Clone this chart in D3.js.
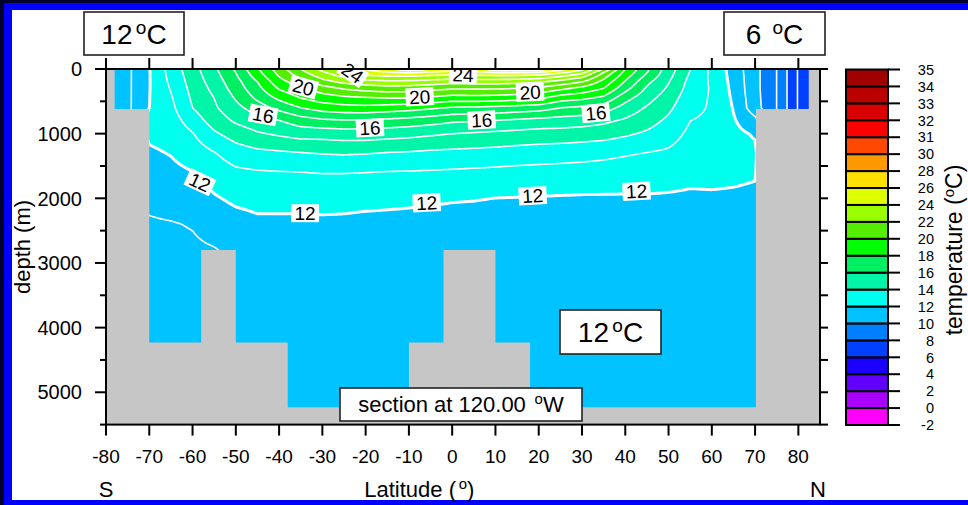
<!DOCTYPE html>
<html>
<head>
<meta charset="utf-8">
<script src="https://cdn.jsdelivr.net/npm/d3@7"></script>
<style>
  html, body { margin: 0; padding: 0; background: #00002c; }
  svg { display: block; font-family: "Liberation Sans", Arial, Helvetica, sans-serif; }
</style>
</head>
<body>
<svg id="chart"></svg>
<script>
// section grid (latitude, depth in m)
const lats = [-80, -75, -70, -65, -60, -55, -50, -45, -40, -35, -30, -25, -20, -15, -10, -5, 0,
  5, 10, 15, 20, 25, 30, 35, 40, 45, 50, 55, 60, 65, 70, 75, 80, 85];
const depths = [0, 50, 100, 200, 300, 450, 600, 800, 1000, 1300, 1600, 2000, 2400, 2800, 3500, 5500];

// temperature (degC): one profile per latitude, surface to bottom
const tempByLat = [
  [10.8, 10.8, 10.8, 10.8, 10.8, 10.8, 10.8, 10.8, 10.8, 10.8, 10.8, 10.8, 10.8, 10.8, 10.8, 10.8],
  [10.8, 10.8, 10.8, 10.8, 10.8, 10.8, 10.8, 10.8, 10.8, 10.8, 10.8, 10.8, 10.8, 10.8, 10.8, 10.8],
  [11.95, 11.95, 11.95, 11.95, 11.96, 11.98, 12.0, 12.3, 12.2, 11.85, 11.55, 11.2, 10.9, 10.75, 10.55, 10.4],
  [13.4, 13.35, 13.3, 13.2, 13.07, 12.9, 12.75, 12.55, 12.35, 12.05, 11.75, 11.35, 10.95, 10.8, 10.6, 10.4],
  [14.6, 14.55, 14.5, 14.4, 14.3, 14.15, 14.0, 13.45, 12.95, 12.45, 11.97, 11.5, 11.05, 10.85, 10.6, 10.4],
  [15.8, 15.72, 15.63, 15.45, 15.27, 15.0, 14.85, 14.45, 13.85, 12.95, 12.45, 11.9, 11.35, 10.95, 10.85, 10.8],
  [17.2, 17.0, 16.9, 16.65, 16.45, 16.1, 15.7, 15.15, 14.45, 13.5, 12.8, 12.2, 11.6, 11.2, 11.1, 11.05],
  [18.9, 18.7, 18.5, 18.0, 17.7, 17.2, 16.5, 15.6, 14.9, 13.75, 12.9, 12.3, 11.8, 11.6, 11.5, 11.4],
  [20.5, 20.3, 20.1, 19.6, 19.1, 18.2, 17.3, 15.95, 15.15, 13.85, 12.95, 12.3, 11.8, 11.65, 11.5, 11.4],
  [22.0, 21.7, 21.35, 20.6, 19.9, 19.0, 18.0, 16.5, 15.4, 13.95, 12.98, 12.3, 11.8, 11.65, 11.5, 11.4],
  [23.3, 22.9, 22.5, 21.6, 20.55, 19.5, 18.45, 16.8, 15.4, 14.05, 13.03, 12.35, 11.8, 11.65, 11.5, 11.4],
  [24.3, 23.75, 23.3, 22.25, 21.1, 19.75, 18.65, 16.9, 15.5, 14.1, 13.03, 12.3, 11.8, 11.65, 11.5, 11.4],
  [25.1, 24.5, 24.0, 22.55, 21.4, 19.9, 18.7, 16.9, 15.5, 14.05, 13.0, 12.25, 11.75, 11.65, 11.5, 11.4],
  [25.9, 24.95, 24.15, 22.75, 21.55, 20.0, 18.55, 16.75, 15.4, 13.95, 12.95, 12.2, 11.75, 11.6, 11.5, 11.4],
  [26.8, 25.2, 24.2, 22.7, 21.5, 20.0, 18.4, 16.6, 15.3, 13.9, 12.93, 12.15, 11.75, 11.6, 11.5, 11.4],
  [26.1, 24.9, 24.0, 22.55, 21.3, 19.8, 18.15, 16.4, 15.15, 13.8, 12.9, 12.1, 11.75, 11.6, 11.5, 11.4],
  [25.6, 24.65, 23.9, 22.3, 21.1, 19.55, 17.9, 16.15, 15.0, 13.75, 12.85, 12.05, 11.75, 11.6, 11.5, 11.4],
  [25.9, 24.8, 23.95, 22.4, 21.1, 19.6, 17.85, 16.05, 14.9, 13.7, 12.8, 12.03, 11.75, 11.6, 11.5, 11.4],
  [26.6, 25.1, 24.0, 22.4, 21.1, 19.55, 17.75, 15.95, 14.8, 13.65, 12.75, 11.99, 11.75, 11.6, 11.5, 11.4],
  [26.9, 25.15, 24.0, 22.3, 21.0, 19.4, 17.6, 15.8, 14.7, 13.55, 12.7, 11.97, 11.75, 11.6, 11.5, 11.4],
  [26.7, 25.0, 23.85, 22.1, 20.8, 19.2, 17.45, 15.65, 14.6, 13.5, 12.65, 11.95, 11.75, 11.6, 11.5, 11.4],
  [25.4, 24.35, 23.25, 21.6, 20.25, 18.45, 17.0, 15.55, 14.6, 13.4, 12.65, 11.92, 11.75, 11.6, 11.5, 11.4],
  [24.3, 23.4, 22.5, 21.0, 19.7, 18.2, 16.8, 15.45, 14.5, 13.35, 12.6, 11.9, 11.75, 11.6, 11.5, 11.4],
  [22.0, 21.0, 20.5, 19.65, 19.0, 17.75, 16.5, 15.2, 14.4, 13.25, 12.55, 11.9, 11.75, 11.6, 11.5, 11.4],
  [19.0, 18.7, 18.45, 17.9, 17.35, 16.35, 15.6, 14.85, 14.15, 13.1, 12.5, 11.9, 11.75, 11.6, 11.5, 11.4],
  [17.2, 17.05, 16.8, 16.25, 15.85, 15.35, 14.9, 14.4, 13.85, 12.97, 12.5, 11.9, 11.75, 11.6, 11.5, 11.4],
  [15.5, 15.4, 15.3, 15.05, 14.85, 14.5, 14.2, 13.8, 13.4, 12.85, 12.4, 11.88, 11.75, 11.6, 11.5, 11.4],
  [14.0, 13.95, 13.85, 13.7, 13.6, 13.4, 13.25, 13.0, 12.8, 12.55, 12.25, 11.85, 11.75, 11.6, 11.5, 11.4],
  [12.8, 12.8, 12.8, 12.85, 12.9, 12.9, 12.9, 12.85, 12.75, 12.55, 12.3, 11.85, 11.75, 11.6, 11.5, 11.4],
  [11.6, 11.6, 11.65, 11.7, 11.75, 11.85, 11.95, 12.1, 12.25, 12.35, 12.2, 11.85, 11.75, 11.6, 11.5, 11.4],
  [10.3, 10.3, 10.3, 10.3, 10.3, 10.35, 10.4, 11.3, 11.9, 12.2, 12.1, 11.8, 11.7, 11.6, 11.5, 11.4],
  [9.0, 9.0, 9.0, 9.0, 9.0, 9.0, 9.0, 9.0, 9.0, 9.0, 9.0, 9.0, 9.0, 9.0, 9.0, 9.0],
  [6.9, 6.9, 6.9, 6.9, 6.9, 6.9, 6.9, 6.9, 6.9, 6.9, 6.9, 6.9, 6.9, 6.9, 6.9, 6.9],
  [6.5, 6.5, 6.5, 6.5, 6.5, 6.5, 6.5, 6.5, 6.5, 6.5, 6.5, 6.5, 6.5, 6.5, 6.5, 6.5]
];

// sea floor / land blocks: latitude span and depth of the land top
const landFrom = [-80, -78, -70, -58, -50, -38, -10, -2, 10, 18, 70.2, 82.4];
const landTo   = [-78, -70, -58, -50, -38, -10, -2, 10, 18, 70.2, 82.4, 85];
const landTop  = [0, 620, 4230, 2800, 4230, 5230, 4230, 2800, 4230, 5230, 620, 0];

// colour bar levels and fills (one fill per interval)
const colorLevels = [-2, 0, 2, 4, 6, 8, 10, 12, 14, 16, 18, 20, 22, 24, 26, 28, 30, 31, 32, 33, 34, 35];
const colorFills = ["#ff00ff", "#aa00ff", "#6200ff", "#1a00ff", "#0040ff", "#0080ff", "#00c3ff",
  "#00ffee", "#00f5a8", "#00ee62", "#00ff00", "#55ee00", "#99ff00", "#ddff00", "#ffe000",
  "#ff9900", "#ff4800", "#ff0000", "#d80000", "#bb0000", "#a00000"];

// white isolines every degree
const lineLevels = [7, 8, 9, 10, 11, 12, 13, 14, 15, 16, 17, 18, 19, 20, 21, 22, 23, 24, 25, 26];

const latTicks = [-80, -70, -60, -50, -40, -30, -20, -10, 0, 10, 20, 30, 40, 50, 60, 70, 80];
const depthTicks = [0, 1000, 2000, 3000, 4000, 5000];
const depthMinor = [500, 1500, 2500, 3500, 4500, 5500];

// contour labels
const labelText  = ["20", "24", "24", "20", "20", "16", "16", "16", "16", "12", "12", "12", "12", "12"];
const labelLat   = [-34.4, -23, 2.5, -7.5, 18, -43.7, -19, 6.8, 33.2, -58.3, -34, -5.9, 18.6, 42.6];
const labelDepth = [280, 60, 90, 430, 360, 710, 910, 790, 680, 1750, 2230, 2070, 1960, 1890];
const labelAngle = [15, 35, 2, -3, -3, 10, -3, -3, -5, 25, 0, -3, -3, -3];

const W = 968, H = 505;
const svg = d3.select("#chart").attr("width", W).attr("height", H);

// frame of the slide
svg.append("rect").attr("x", 4).attr("y", 3).attr("width", W - 4).attr("height", H - 3).attr("fill", "#0000ff");
svg.append("rect").attr("x", 12).attr("y", 10).attr("width", W - 12).attr("height", 490).attr("fill", "#ffffff");

const x = d3.scaleLinear().domain([-80, 85]).range([106, 820]);
const y = d3.scaleLinear().domain([0, 5500]).range([69, 424.6]);

function tempAt(lat, depth) {
  lat = Math.max(lats[0], Math.min(lats[lats.length - 1], lat));
  depth = Math.max(depths[0], Math.min(depths[depths.length - 1], depth));
  const i = Math.min(d3.bisectRight(lats, lat) - 1, lats.length - 2);
  const j = Math.min(d3.bisectRight(depths, depth) - 1, depths.length - 2);
  const tx = (lat - lats[i]) / (lats[i + 1] - lats[i]);
  const ty = (depth - depths[j]) / (depths[j + 1] - depths[j]);
  const a = tempByLat[i][j], b = tempByLat[i + 1][j];
  const c = tempByLat[i][j + 1], d = tempByLat[i + 1][j + 1];
  return a * (1 - tx) * (1 - ty) + b * tx * (1 - ty) + c * (1 - tx) * ty + d * tx * ty;
}

// sample the field a bit beyond the plot so the outer rings fall outside the clip
const step = 2;
const gx0 = x(-80) - 6, gy0 = y(0) - 6;
const nx = Math.ceil((x(85) + 6 - gx0) / step);
const ny = Math.ceil((y(5500) + 6 - gy0) / step);
const values = new Float64Array(nx * ny);
for (let j = 0; j < ny; j++) {
  for (let i = 0; i < nx; i++) {
    values[j * nx + i] = tempAt(x.invert(gx0 + (i + 0.5) * step), y.invert(gy0 + (j + 0.5) * step));
  }
}
const path = d3.geoPath(d3.geoIdentity().scale(step).translate([gx0, gy0]));

svg.append("clipPath").attr("id", "plotClip")
  .append("rect").attr("x", x(-80)).attr("y", y(0))
  .attr("width", x(85) - x(-80)).attr("height", y(5500) - y(0));

const plot = svg.append("g").attr("clip-path", "url(#plotClip)");

const bands = d3.contours().size([nx, ny]).thresholds(colorLevels.slice(0, -1))(values);
plot.append("g").selectAll("path").data(bands).join("path")
  .attr("d", path)
  .attr("fill", (d, i) => colorFills[i]);

const isolines = d3.contours().size([nx, ny]).thresholds(lineLevels)(values);
plot.append("g").selectAll("path").data(isolines).join("path")
  .attr("d", path)
  .attr("fill", "none")
  .attr("stroke", "#ffffff")
  .attr("stroke-width", d => d.value === 12 ? 3 : 1.6)
  .attr("stroke-linejoin", "round");

// land as one outline so the blocks have no seams
const landPts = [];
landTop.forEach((d, i) => { landPts.push([landFrom[i], d], [landTo[i], d]); });
landPts.push([85, 5600], [-80, 5600]);
plot.append("path")
  .attr("d", d3.line().x(d => x(d[0])).y(d => y(d[1]))(landPts) + "Z")
  .attr("fill", "#c6c6c6");

// contour labels
const lab = svg.append("g").selectAll("g").data(labelText).join("g")
  .attr("transform", (d, i) => `translate(${x(labelLat[i])},${y(labelDepth[i])}) rotate(${labelAngle[i]})`);
lab.append("rect").attr("x", -14).attr("y", -9).attr("width", 28).attr("height", 18).attr("fill", "#ffffff");
lab.append("text").attr("text-anchor", "middle").attr("dy", "0.36em")
  .style("font-size", "19px").attr("fill", "#000").text(d => d);

// axes
const axes = svg.append("g").attr("stroke", "#000").attr("stroke-width", 2);
axes.append("rect").attr("x", x(-80)).attr("y", y(0))
  .attr("width", x(85) - x(-80)).attr("height", y(5500) - y(0)).attr("fill", "none");
axes.selectAll(".xb").data(latTicks).join("line").attr("class", "xb")
  .attr("x1", d => x(d)).attr("x2", d => x(d)).attr("y1", y(5500)).attr("y2", y(5500) + 11);
axes.selectAll(".xt").data(latTicks).join("line").attr("class", "xt")
  .attr("x1", d => x(d)).attr("x2", d => x(d)).attr("y1", y(0)).attr("y2", y(0) - 11);
axes.selectAll(".yl").data(depthTicks).join("line").attr("class", "yl")
  .attr("x1", x(-80)).attr("x2", x(-80) - 11).attr("y1", d => y(d)).attr("y2", d => y(d));
axes.selectAll(".ym").data(depthMinor).join("line").attr("class", "ym")
  .attr("x1", x(-80)).attr("x2", x(-80) - 6).attr("y1", d => y(d)).attr("y2", d => y(d));
axes.selectAll(".yr").data(depthTicks.concat(depthMinor)).join("line").attr("class", "yr")
  .attr("x1", x(85)).attr("x2", x(85) + 8).attr("y1", d => y(d)).attr("y2", d => y(d));

const txt = svg.append("g").attr("fill", "#000");
txt.selectAll(".xl").data(latTicks).join("text").attr("class", "xl")
  .attr("x", d => x(d)).attr("y", 463).attr("text-anchor", "middle")
  .style("font-size", "19px").text(d => d);
txt.selectAll(".yt").data(depthTicks).join("text").attr("class", "yt")
  .attr("x", 82).attr("y", d => y(d)).attr("dy", "0.36em").attr("text-anchor", "end")
  .style("font-size", "20px").text(d => d);

function degText(sel, px, py, before, after, fs) {
  const t = sel.append("text").attr("x", px).attr("y", py).attr("text-anchor", "middle")
    .style("font-size", fs + "px");
  t.append("tspan").text(before);
  t.append("tspan").attr("dx", fs * 0.12).attr("dy", -fs * 0.36)
    .style("font-size", (fs * 0.68) + "px").text("o");
  t.append("tspan").attr("dy", fs * 0.36).text(after);
  return t;
}

degText(txt, x(-7.6), 497, "Latitude (", ")", 22);
txt.append("text").attr("x", x(-80)).attr("y", 497).attr("text-anchor", "middle")
  .style("font-size", "22px").text("S");
txt.append("text").attr("x", 818).attr("y", 497).attr("text-anchor", "middle")
  .style("font-size", "22px").text("N");
txt.append("text").attr("transform", "translate(30,247) rotate(-90)").attr("text-anchor", "middle")
  .style("font-size", "22px").text("depth (m)");

// annotation boxes
function box(bx, by, bw, bh) {
  svg.append("rect").attr("x", bx).attr("y", by).attr("width", bw).attr("height", bh)
    .attr("fill", "#fff").attr("stroke", "#222").attr("stroke-width", 1.6);
}
box(84, 12, 100, 43);
degText(svg, 134, 44, "12", "C", 28);
box(724, 12, 101, 43);
degText(svg, 774.5, 44, "6 ", "C", 28);
box(560, 310, 101, 44);
degText(svg, 610.5, 342, "12", "C", 28);
box(340, 388, 242, 33);
degText(svg, 461, 412, "section at 120.00 ", "W", 22);

// colour bar
const cbY = d3.scaleLinear().domain([0, colorLevels.length - 1]).range([425, 69.5]);
const cb = svg.append("g");
cb.selectAll("rect").data(colorFills).join("rect")
  .attr("x", 846).attr("width", 42)
  .attr("y", (d, i) => cbY(i + 1)).attr("height", (d, i) => cbY(i) - cbY(i + 1))
  .attr("fill", d => d).attr("stroke", "#000").attr("stroke-width", 2);
cb.selectAll("line").data(colorLevels).join("line")
  .attr("x1", 888).attr("x2", 900).attr("y1", (d, i) => cbY(i)).attr("y2", (d, i) => cbY(i))
  .attr("stroke", "#000").attr("stroke-width", 2);
cb.selectAll("text").data(colorLevels).join("text")
  .attr("x", 934).attr("y", (d, i) => cbY(i)).attr("dy", "0.36em").attr("text-anchor", "end")
  .style("font-size", "14.5px").text(d => d);
const tt = cb.append("text").attr("transform", "translate(962,250) rotate(-90)")
  .attr("text-anchor", "middle").style("font-size", "23px");
tt.append("tspan").text("temperature (");
tt.append("tspan").attr("dy", -8).style("font-size", "15px").text("o");
tt.append("tspan").attr("dy", 8).text("C)");
</script>
</body>
</html>
